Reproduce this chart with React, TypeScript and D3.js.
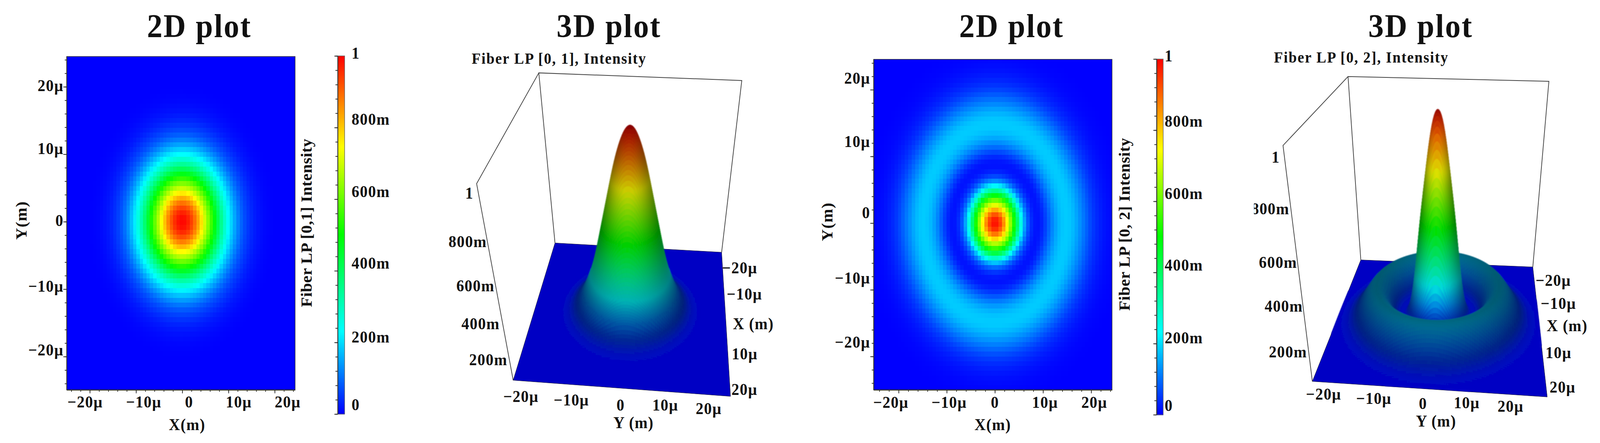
import { useEffect, useRef } from "react"
import * as d3 from "d3"

// Radial intensity profiles, one value per um of radius.
// The cells and facets are looked up from these; the picture gives no per-cell values.
const lp01Intensity = [1, 0.985, 0.94, 0.875, 0.79, 0.69, 0.59, 0.49, 0.39, 0.3, 0.23, 0.17, 0.12, 0.08, 0.055, 0.035, 0.02, 0.012, 0.005, 0.002, 0, 0, 0, 0, 0, 0, 0, 0, 0, 0, 0, 0, 0, 0, 0, 0, 0, 0, 0, 0]
const lp02Intensity = [1, 0.96, 0.84, 0.68, 0.52, 0.33, 0.15, 0.06, 0.02, 0.012, 0.035, 0.08, 0.125, 0.16, 0.18, 0.185, 0.175, 0.15, 0.12, 0.09, 0.06, 0.04, 0.025, 0.015, 0.008, 0.004, 0.002, 0, 0, 0, 0, 0, 0, 0, 0, 0, 0, 0, 0, 0]

const spatialTicks = [-20, -10, 0, 10, 20]
const spatialMinorTicks = d3.range(-24, 25, 2)
const intensityTicks = [0, 0.2, 0.4, 0.6, 0.8, 1]
const intensityMinorTicks = d3.range(0, 1.001, 0.04)
const zTicks = [1, 0.8, 0.6, 0.4, 0.2]
const colorStops = [0, 0.23, 0.5, 0.745, 1]
const colorValues = ["#0000ff", "#00ffff", "#00ff00", "#ffff00", "#ff0000"]

const FONT = "'Liberation Serif', serif"
const INK = "#111"
const FLOOR_COLOR = "#0000c4"
const CELL_STEP = 0.72
const FACET_STEP = 0.5
const FINE_RADIUS = 12

const colormap = d3.scaleLinear<string>().domain(colorStops).range(colorValues)
const spatialLabel = (d: number) => (d === 0 ? "0" : `${d < 0 ? "\u2212" : ""}${Math.abs(d)}\u00b5`)
const intensityLabel = (d: number) => (d === 0 ? "0" : d === 1 ? "1" : `${Math.round(d * 1000)}m`)

// Smooth lookup of a profile, mirrored at r = 0 so the top stays round
function makeProfile(values: number[]) {
  const mirrored = [...values.slice(1).reverse(), ...values]
  const spline = d3.interpolateBasis(mirrored)
  const last = values.length - 1
  return (r: number) => Math.max(0, spline((Math.min(r, last) + last) / (2 * last)))
}

const plots2d = [
  {
    intensity: lp01Intensity, title: "2D plot", titleX: 541.6,
    barTitle: "Fiber LP [0,1] Intensity", barTitleX: 847, barTitleY: 570,
    x0: 181, x1: 802, y0: 997, y1: 144.5, xDomain: [-25.02, 24.42], yDomain: [-24.93, 24.49],
    xLabelX: [231.5, 390.7, 514, 649, 782], xLabelY: 1042, xTitleX: 508.6, xTitleY: 1100,
    yLabelX: 173, yLabelY: [909, 745.7, 578, 393.8, 232.7], yTitleX: 72, yTitleY: 563.6,
    barX: 917.6, barW: 19, barY0: 1059, barY1: 143, barLabelX: 955.5,
    barLabelY: [1049, 875.7, 687, 504, 318.6, 150],
  },
  {
    intensity: lp02Intensity, title: "2D plot", titleX: 2749,
    barTitle: "Fiber LP [0, 2] Intensity", barTitleX: 3070, barTitleY: 573.7,
    x0: 2374, x1: 3022, y0: 997, y1: 151.7, xDomain: [-25.2, 24.34], yDomain: [-25, 24.56],
    xLabelX: [2421, 2579.5, 2703.7, 2840, 2973.8], xLabelY: 1042.6, xTitleX: 2698, xTitleY: 1100,
    yLabelX: 2365, yLabelY: [888.7, 724.7, 557.8, 375.7, 213.9], yTitleX: 2261.7, yTitleY: 567,
    barX: 3143, barW: 18, barY0: 1060.7, barY1: 151, barLabelX: 3165,
    barLabelY: [1051, 877.9, 691.5, 509.4, 323.7, 156.8],
  },
]

const plots3d = [
  {
    intensity: lp01Intensity, title: "3D plot", titleX: 1654.8,
    subtitle: "Fiber LP [0, 1], Intensity", subtitleX: 1281.8, subtitleY: 163.3, subtitleW: 473,
    floor: [[1508.2, 621.4], [1961, 645.2], [1985.2, 1013.7], [1394.6, 972.5]],
    top: [[1464.2, 186.4], [2015.8, 205.9], [1295.2, 469.7]], peak: [1715.4, 315.8],
    zLabelX: [1286.9, 1323, 1344, 1358, 1379], zLabelY: [508, 632, 745, 842, 933.5], clipX: 0,
    yLabelX: [1415.7, 1552.8, 1686.7, 1808, 1926], yLabelY: [1028, 1036.8, 1050, 1050, 1058.5],
    yTitleX: 1721.8, yTitleY: 1094.6,
    xLabelX: [1962, 1975, 1988.4, 1987.8], xLabelY: [699.4, 766, 919, 1010],
    xTitleX: 1991.6, xTitleY: 841.8,
  },
  {
    intensity: lp02Intensity, title: "3D plot", titleX: 3860.7,
    subtitle: "Fiber LP [0, 2], Intensity", subtitleX: 3462, subtitleY: 160.4, subtitleW: 472.6,
    floor: [[3698, 664.7], [4165.4, 682.8], [4204.6, 1015.2], [3566.3, 975.4]],
    top: [[3663.3, 195.8], [4209.1, 208], [3486.6, 372]], peak: [3910.8, 276.7],
    zLabelX: [3478, 3504, 3525, 3540.6, 3552], zLabelY: [415.5, 547.7, 685, 797, 914], clipX: 3407.5,
    yLabelX: [3597, 3733.4, 3867, 3986, 4105], yLabelY: [1022, 1033, 1045.5, 1044, 1052.7],
    yTitleX: 3902.5, yTitleY: 1091,
    xLabelX: [4173, 4187, 4200, 4211], xLabelY: [731, 790, 915.5, 1004],
    xTitleX: 4203, xTitleY: 847,
  },
]

type Sel = d3.Selection<SVGGElement, unknown, null, undefined>

function addText(g: Sel, text: string, x: number, y: number, size: number, anchor = "start", rotate = false) {
  return g.append("text")
    .attr("transform", rotate ? `translate(${x},${y}) rotate(-90)` : `translate(${x},${y})`)
    .attr("text-anchor", anchor)
    .attr("font-family", FONT)
    .attr("font-weight", "bold")
    .attr("font-size", size)
    .attr("fill", INK)
    .text(text)
}

function addTitle(g: Sel, text: string, x: number) {
  addText(g, text, x, 95.4, 84, "middle").attr("letter-spacing", 3)
}

function styleAxis(g: Sel, width: number) {
  g.selectAll("line").attr("stroke", "#333").attr("stroke-width", width)
  g.selectAll(".domain").attr("stroke", "#333").attr("stroke-width", width)
}

function draw2d(root: Sel, p: typeof plots2d[number]) {
  const g = root.append("g")
  const x = d3.scaleLinear().domain(p.xDomain).range([p.x0, p.x1])
  const y = d3.scaleLinear().domain(p.yDomain).range([p.y0, p.y1])
  const profile = makeProfile(p.intensity)

  addTitle(g, p.title, p.titleX)

  // Blocky cells, like the mesh of the simulation export
  const xCells = d3.range(p.xDomain[0], p.xDomain[1], CELL_STEP)
  const yCells = d3.range(p.yDomain[0], p.yDomain[1], CELL_STEP)
  const cells = xCells.flatMap((cx) => yCells.map((cy) => [cx, cy]))
  g.append("g").attr("shape-rendering", "crispEdges")
    .selectAll("rect").data(cells).join("rect")
    .attr("x", (d) => x(d[0]))
    .attr("y", (d) => y(Math.min(d[1] + CELL_STEP, p.yDomain[1])))
    .attr("width", (d) => x(Math.min(d[0] + CELL_STEP, p.xDomain[1])) - x(d[0]) + 0.5)
    .attr("height", (d) => y(d[1]) - y(Math.min(d[1] + CELL_STEP, p.yDomain[1])) + 0.5)
    .attr("fill", (d) => colormap(profile(Math.hypot(d[0] + CELL_STEP / 2, d[1] + CELL_STEP / 2))))

  g.append("rect")
    .attr("x", p.x0).attr("y", p.y1)
    .attr("width", p.x1 - p.x0).attr("height", p.y0 - p.y1)
    .attr("fill", "none").attr("stroke", "#333").attr("stroke-width", 1.5)

  const xAxis = g.append("g").attr("transform", `translate(0,${p.y0})`)
  xAxis.append("g").call(d3.axisBottom(x).tickValues(spatialMinorTicks).tickFormat(() => "").tickSize(5).tickSizeOuter(0))
  xAxis.append("g").call(d3.axisBottom(x).tickValues(spatialTicks).tickFormat(() => "").tickSize(9).tickSizeOuter(0))
  styleAxis(xAxis, 2)
  const yAxis = g.append("g").attr("transform", `translate(${p.x0},0)`)
  yAxis.append("g").call(d3.axisLeft(y).tickValues(spatialMinorTicks).tickFormat(() => "").tickSize(5).tickSizeOuter(0))
  yAxis.append("g").call(d3.axisLeft(y).tickValues(spatialTicks).tickFormat(() => "").tickSize(9).tickSizeOuter(0))
  styleAxis(yAxis, 2)

  spatialTicks.forEach((t, i) => {
    addText(g, spatialLabel(t), p.xLabelX[i], p.xLabelY, 42, "middle").attr("letter-spacing", 1.5)
    addText(g, spatialLabel(t), p.yLabelX, p.yLabelY[i], 42, "end").attr("letter-spacing", 1.5)
  })
  addText(g, "X(m)", p.xTitleX, p.xTitleY, 42, "middle").attr("letter-spacing", 1.5)
  addText(g, "Y(m)", p.yTitleX, p.yTitleY, 42, "middle", true).attr("letter-spacing", 1.5)

  // Colour bar
  const bar = d3.scaleLinear().domain([0, 1]).range([p.barY0, p.barY1])
  const barSteps = d3.range(0, 1, 0.004)
  g.append("g").attr("shape-rendering", "crispEdges")
    .selectAll("rect").data(barSteps).join("rect")
    .attr("x", p.barX).attr("width", p.barW)
    .attr("y", (d) => bar(d + 0.004))
    .attr("height", (d) => bar(d) - bar(d + 0.004) + 1)
    .attr("fill", (d) => colormap(d))
  g.append("rect")
    .attr("x", p.barX).attr("y", p.barY1)
    .attr("width", p.barW).attr("height", p.barY0 - p.barY1)
    .attr("fill", "none").attr("stroke", "#666").attr("stroke-width", 1.5)
  const barAxis = g.append("g").attr("transform", `translate(${p.barX},0)`)
  barAxis.append("g").call(d3.axisLeft(bar).tickValues(intensityMinorTicks).tickFormat(() => "").tickSize(6).tickSizeOuter(0))
  barAxis.append("g").call(d3.axisLeft(bar).tickValues(intensityTicks).tickFormat(() => "").tickSize(9).tickSizeOuter(0))
  styleAxis(barAxis, 2)
  intensityTicks.forEach((t, i) => {
    addText(g, intensityLabel(t), p.barLabelX, p.barLabelY[i], 42).attr("letter-spacing", 1.5)
  })
  addText(g, p.barTitle, p.barTitleX, p.barTitleY, 42, "middle", true).attr("letter-spacing", 0.5)
}

// Perspective map of the unit box, calibrated on the corners of the drawn frame
function makeProjection(floor: number[][], top: number[][], peak: number[]) {
  const [[x0, y0], [x1, y1], [x2, y2], [x3, y3]] = floor
  const dx1 = x1 - x2, dx2 = x3 - x2, sx = x0 - x1 + x2 - x3
  const dy1 = y1 - y2, dy2 = y3 - y2, sy = y0 - y1 + y2 - y3
  const det = dx1 * dy2 - dx2 * dy1
  const gg = (sx * dy2 - dx2 * sy) / det
  const hh = (dx1 * sy - sx * dy1) / det
  const a = x1 - x0 + gg * x1, b = x3 - x0 + hh * x3
  const d = y1 - y0 + gg * y1, e = y3 - y0 + hh * y3
  const [tx, ty] = top[0]
  const at = (s: number) => (u: number, v: number, w: number): [number, number] => {
    const p = s * tx - x0, q = s * ty - y0, r = s - 1
    const h = gg * u + hh * v + 1 + r * w
    return [(a * u + b * v + x0 + p * w) / h, (d * u + e * v + y0 + q * w) / h]
  }
  const targets: [number[], number[]][] = [[[1, 0, 1], top[1]], [[0, 1, 1], top[2]], [[0.5, 0.5, 1], peak]]
  const best = d3.least(d3.range(0.3, 1.6, 0.001), (s) =>
    d3.sum(targets, ([uvw, pt]) => {
      const [px, py] = at(s)(uvw[0], uvw[1], uvw[2])
      return (px - pt[0]) ** 2 + (py - pt[1]) ** 2
    }))!
  return at(best)
}

function draw3d(root: Sel, p: typeof plots3d[number], index: number) {
  const g = root.append("g")
  const profile = makeProfile(p.intensity)
  const horizontal = d3.scaleLinear().domain([-25, 25]).range([0, 1])
  const depth = d3.scaleLinear().domain([-25, 25]).range([0, 1])
  const height = d3.scaleLinear().domain([0, 1]).range([0, 1])
  const project = makeProjection(p.floor, p.top, p.peak)
  const point = (yv: number, xv: number) => project(horizontal(yv), depth(xv), height(profile(Math.hypot(yv, xv))))

  addTitle(g, p.title, p.titleX)
  addText(g, p.subtitle, p.subtitleX, p.subtitleY, 40).attr("textLength", p.subtitleW)

  // Back walls and the intensity edge of the frame
  const frame = d3.line()
  g.append("path")
    .attr("d", frame([p.floor[0], p.top[0], p.top[1], p.floor[1]] as [number, number][]))
    .attr("fill", "none").attr("stroke", "#444").attr("stroke-width", 2)
  g.append("path")
    .attr("d", frame([p.top[0], p.top[2], p.floor[3]] as [number, number][]))
    .attr("fill", "none").attr("stroke", "#444").attr("stroke-width", 2)

  g.append("polygon")
    .attr("points", p.floor.map((c) => c.join(",")).join(" "))
    .attr("fill", FLOOR_COLOR).attr("stroke", "#223").attr("stroke-width", 1)

  // Facets, back to front and from the sides towards the middle of each row.
  // Steep parts get a finer mesh, otherwise the colour steps show as terraces.
  const steps = d3.range(-25, 25, FACET_STEP)
  const mesh = steps.flatMap((xv) => steps.flatMap((yv) => {
    const size = FACET_STEP
    if (Math.hypot(yv + size / 2, xv + size / 2) >= FINE_RADIUS) return [{ xv, yv, size }]
    const half = size / 2
    return [[0, 0], [half, 0], [0, half], [half, half]].map(([dx, dy]) => ({ xv: xv + dx, yv: yv + dy, size: half }))
  }))
    .filter((c) => profile(Math.hypot(c.yv + c.size / 2, c.xv + c.size / 2)) > 0.0015)
    .sort((m, n) =>
      d3.ascending(m.xv + m.size / 2, n.xv + n.size / 2) ||
      d3.descending(Math.abs(m.yv + m.size / 2), Math.abs(n.yv + n.size / 2)))

  const facets = mesh.map(({ xv, yv, size }) => {
    const cy = yv + size / 2, cx = xv + size / 2
    const r = Math.hypot(cy, cx)
    const I = profile(r)
    const slope = Math.abs(profile(r + 0.5) - profile(Math.abs(r - 0.5))) / (r < 0.5 ? 0.5 + r : 1)
    const steep = Math.min(1, slope / 0.12)
    const side = r === 0 ? 0 : (cy / r) ** 2 * Math.min(1, r / 3)
    const lit = (0.5 + 0.38 * steep) * (1 - 0.42 * side * (0.3 + 0.7 * steep))
    // Ease from the floor shade into the lit shade so the foot has no visible rim
    const t = Math.min(1, I / 0.07)
    const blend = t * t * (3 - 2 * t)
    const shade = 0.77 * (1 - blend) + lit * blend
    const base = d3.rgb(colormap(I))
    const fill = d3.rgb(base.r * shade, base.g * shade, base.b * shade).formatHex()
    const path = d3.path()
    const corners = [point(yv, xv), point(yv + size, xv), point(yv + size, xv + size), point(yv, xv + size)]
    path.moveTo(corners[0][0], corners[0][1])
    corners.slice(1).forEach((c) => path.lineTo(c[0], c[1]))
    path.closePath()
    return { d: path.toString(), fill }
  })

  const blurId = `surface-blur-${index}`
  g.append("filter").attr("id", blurId)
    .attr("filterUnits", "userSpaceOnUse")
    .attr("x", 0).attr("y", 0).attr("width", 4348).attr("height", 1133)
    .append("feGaussianBlur").attr("stdDeviation", 1)
  g.append("g").attr("filter", `url(#${blurId})`)
    .selectAll("path").data(facets).join("path")
    .attr("d", (d) => d.d)
    .attr("fill", (d) => d.fill)
    .attr("stroke", (d) => d.fill)
    .attr("stroke-width", 0.8)

  const clipId = `z-clip-${index}`
  if (p.clipX) {
    g.append("clipPath").attr("id", clipId).append("rect")
      .attr("x", p.clipX).attr("y", 0).attr("width", 400).attr("height", 1133)
  }
  zTicks.forEach((t, i) => {
    const label = addText(g, intensityLabel(t), p.zLabelX[i], p.zLabelY[i], 42, "end").attr("letter-spacing", 1.5)
    if (p.clipX && t === 0.8) {
      g.append("g").attr("clip-path", `url(#${clipId})`).append(() => label.node())
    }
  })
  spatialTicks.forEach((t, i) => {
    addText(g, spatialLabel(t), p.yLabelX[i], p.yLabelY[i], 42, "middle").attr("letter-spacing", 1.5)
  })
  spatialTicks.filter((t) => t !== 0).forEach((t, i) => {
    addText(g, spatialLabel(t), p.xLabelX[i], p.xLabelY[i], 42).attr("letter-spacing", 1.5)
  })
  addText(g, "Y (m)", p.yTitleX, p.yTitleY, 42, "middle").attr("letter-spacing", 1.5)
  addText(g, "X (m)", p.xTitleX, p.xTitleY, 42).attr("letter-spacing", 1.5)
}

export default function App() {
  const svgRef = useRef<SVGSVGElement>(null)

  useEffect(() => {
    if (!svgRef.current) return
    d3.select(svgRef.current).selectAll("*").remove()
    const root = d3.select(svgRef.current).append("g") as unknown as Sel
    plots2d.forEach((p) => draw2d(root, p))
    plots3d.forEach((p, i) => draw3d(root, p, i))
  }, [])

  return (
    <svg
      ref={svgRef}
      viewBox="0 0 4348 1133"
      preserveAspectRatio="none"
      style={{ position: "absolute", left: 0, top: 0, width: "100vw", height: "100vh", background: "#fff", display: "block" }}
    />
  )
}
